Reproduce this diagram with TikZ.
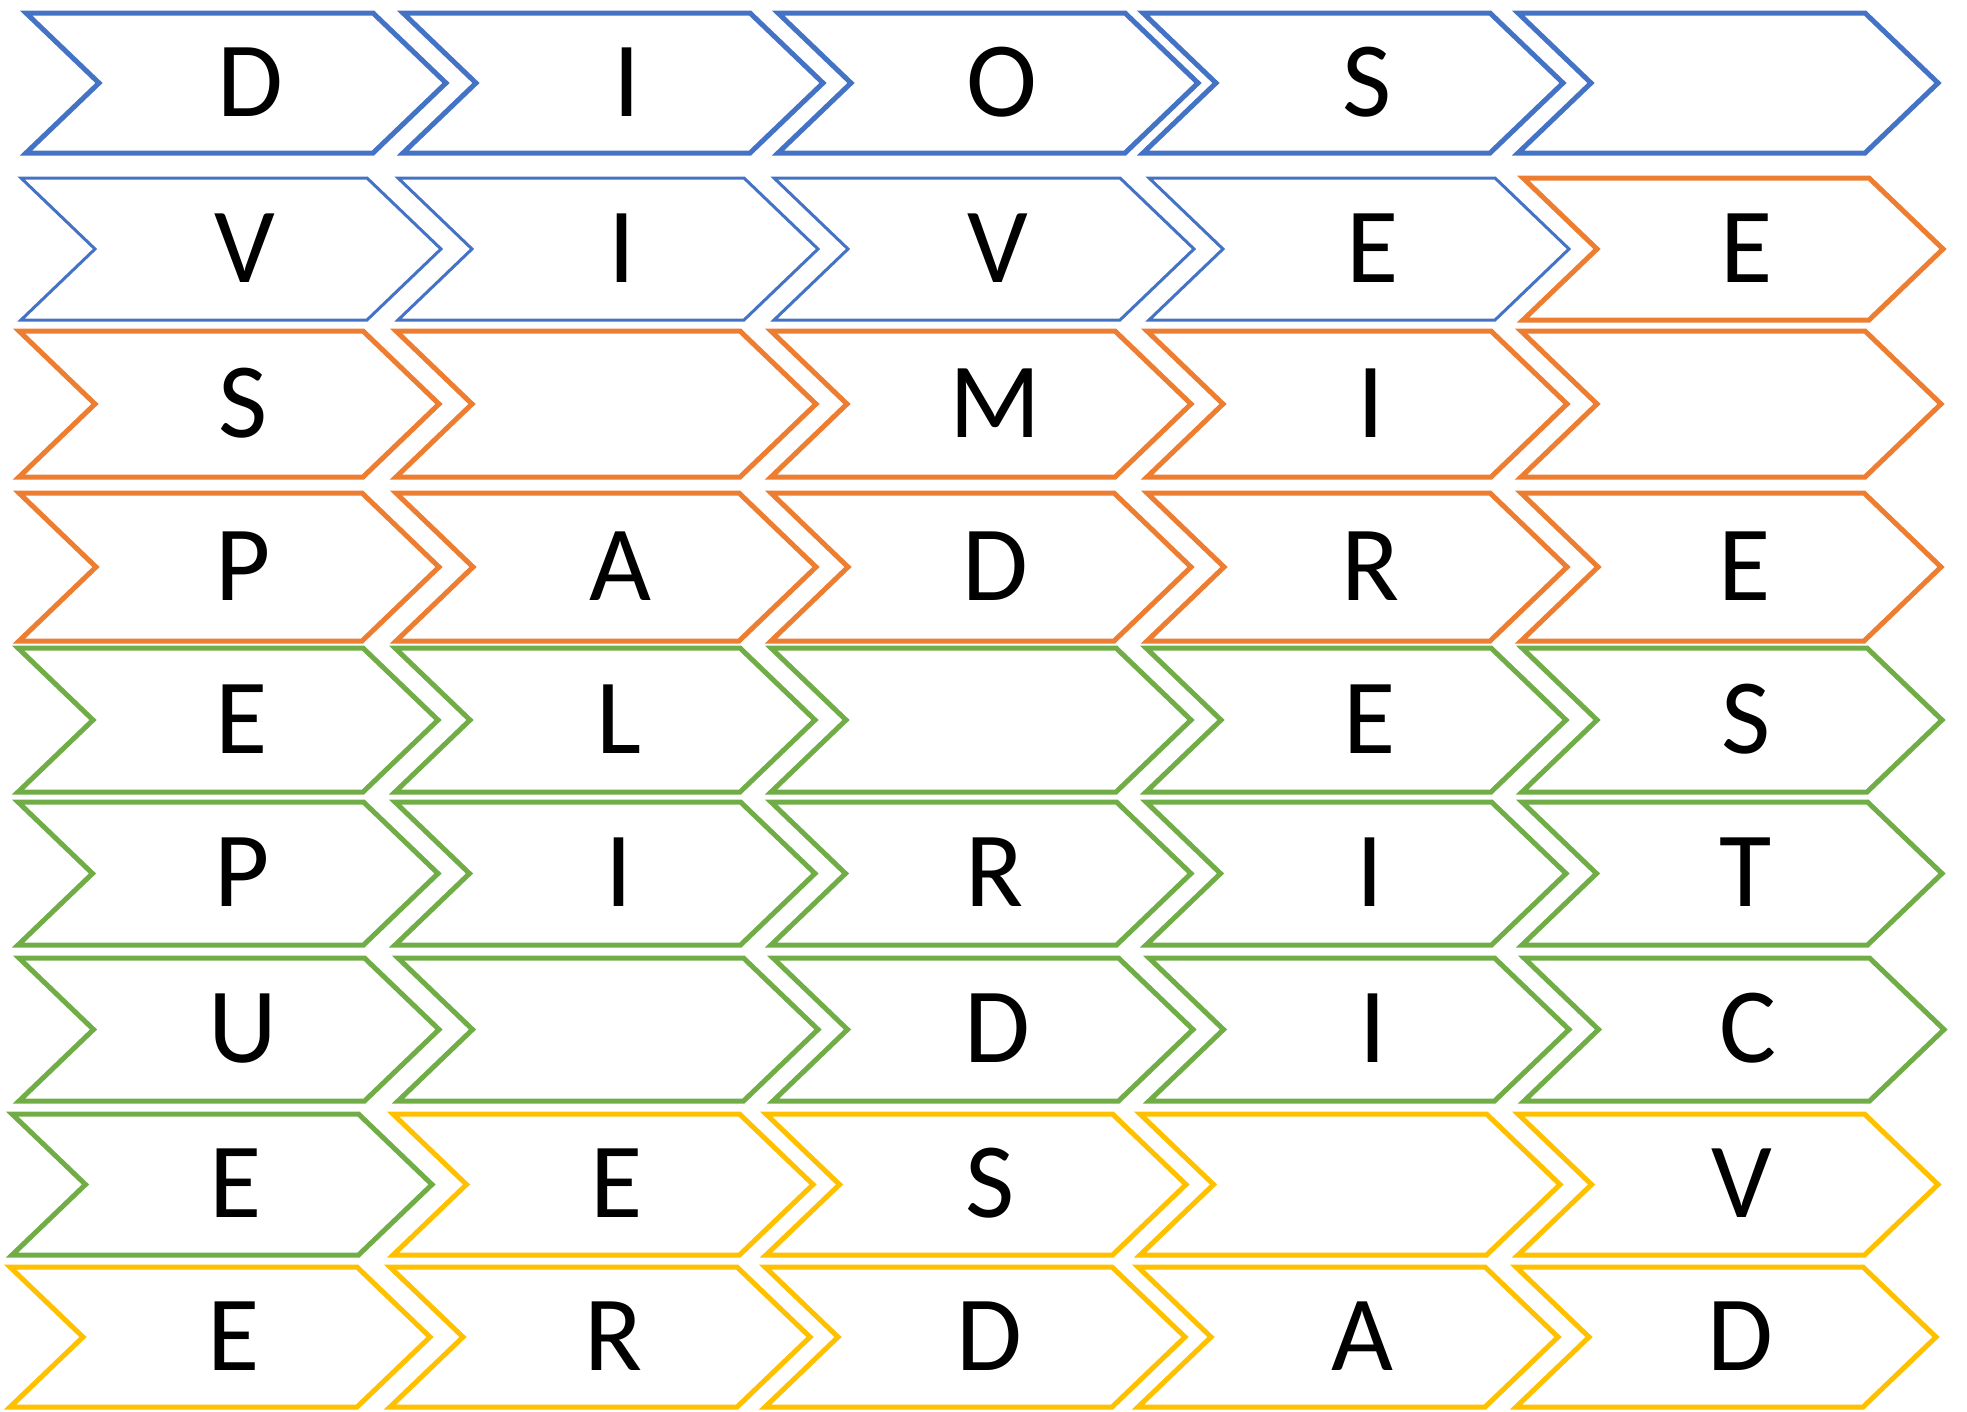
\documentclass[tikz,border=0pt]{standalone}
\usepackage{fontspec}
\setmainfont{Carlito}
\definecolor{cblue}{HTML}{4472C4}
\definecolor{corange}{HTML}{ED7D31}
\definecolor{cgreen}{HTML}{70AD47}
\definecolor{cyellow}{HTML}{FFC000}
% one chevron: name, left x, top y, height, style, letter
\newcommand{\chev}[6]{%
  \draw[#5] (#2,#3) -- (#2+417-#4/2,#3) -- (#2+420,#3+#4/2)
    -- (#2+417-#4/2,#3+#4) -- (#2,#3+#4) -- (#2+#4/2+3,#3+#4/2) -- cycle;
  \node[letter] (#1) at (#2+224,#3+#4/2+33) {#6};
}
\begin{document}
\begin{tikzpicture}[x=1pt,y=-1pt,
blueA/.style={draw=cblue,line width=5pt},
blueB/.style={draw=cblue,line width=3pt},
orangeA/.style={draw=corange,line width=5pt},
greenA/.style={draw=cgreen,line width=5pt},
yellowA/.style={draw=cyellow,line width=5pt},
letter/.style={anchor=base,inner sep=0pt,font=\fontsize{107}{110}\selectfont}]
\useasboundingbox (0,0) rectangle (1967,1411);
% DIOS
\chev{a1}{26}{13}{140}{blueA}{D}
\chev{a2}{403}{13}{140}{blueA}{I}
\chev{a3}{778}{13}{140}{blueA}{O}
\chev{a4}{1143}{13}{140}{blueA}{S}
\chev{a5}{1518}{13}{140}{blueA}{}
% VIVEE
\chev{b1}{21}{178}{142}{blueB}{V}
\chev{b2}{398}{178}{142}{blueB}{I}
\chev{b3}{774}{178}{142}{blueB}{V}
\chev{b4}{1149}{178}{142}{blueB}{E}
\chev{b5}{1523}{178}{142}{orangeA}{E}
% S MI
\chev{c1}{19}{331}{146}{orangeA}{S}
\chev{c2}{396}{331}{146}{orangeA}{}
\chev{c3}{771}{331}{146}{orangeA}{M}
\chev{c4}{1147}{331}{146}{orangeA}{I}
\chev{c5}{1521}{331}{146}{orangeA}{}
% PADRE
\chev{d1}{19}{493}{148}{orangeA}{P}
\chev{d2}{396}{493}{148}{orangeA}{A}
\chev{d3}{771}{493}{148}{orangeA}{D}
\chev{d4}{1147}{493}{148}{orangeA}{R}
\chev{d5}{1521}{493}{148}{orangeA}{E}
% EL ES
\chev{e1}{18}{648}{144}{greenA}{E}
\chev{e2}{395}{648}{144}{greenA}{L}
\chev{e3}{771}{648}{144}{greenA}{}
\chev{e4}{1146}{648}{144}{greenA}{E}
\chev{e5}{1522}{648}{144}{greenA}{S}
% PIRIT
\chev{f1}{18}{802}{143}{greenA}{P}
\chev{f2}{395}{802}{143}{greenA}{I}
\chev{f3}{771}{802}{143}{greenA}{R}
\chev{f4}{1146}{802}{143}{greenA}{I}
\chev{f5}{1522}{802}{143}{greenA}{T}
% U DIC
\chev{g1}{19}{958}{143}{greenA}{U}
\chev{g2}{398}{958}{143}{greenA}{}
\chev{g3}{773}{958}{143}{greenA}{D}
\chev{g4}{1149}{958}{143}{greenA}{I}
\chev{g5}{1524}{958}{143}{greenA}{C}
% EES V
\chev{h1}{12}{1114}{141}{greenA}{E}
\chev{h2}{393}{1114}{141}{yellowA}{E}
\chev{h3}{766}{1114}{141}{yellowA}{S}
\chev{h4}{1140}{1114}{141}{yellowA}{}
\chev{h5}{1518}{1114}{141}{yellowA}{V}
% ERDAD
\chev{i1}{10}{1267}{140}{yellowA}{E}
\chev{i2}{390}{1267}{140}{yellowA}{R}
\chev{i3}{765}{1267}{140}{yellowA}{D}
\chev{i4}{1138}{1267}{140}{yellowA}{A}
\chev{i5}{1516}{1267}{140}{yellowA}{D}
\end{tikzpicture}
\end{document}
